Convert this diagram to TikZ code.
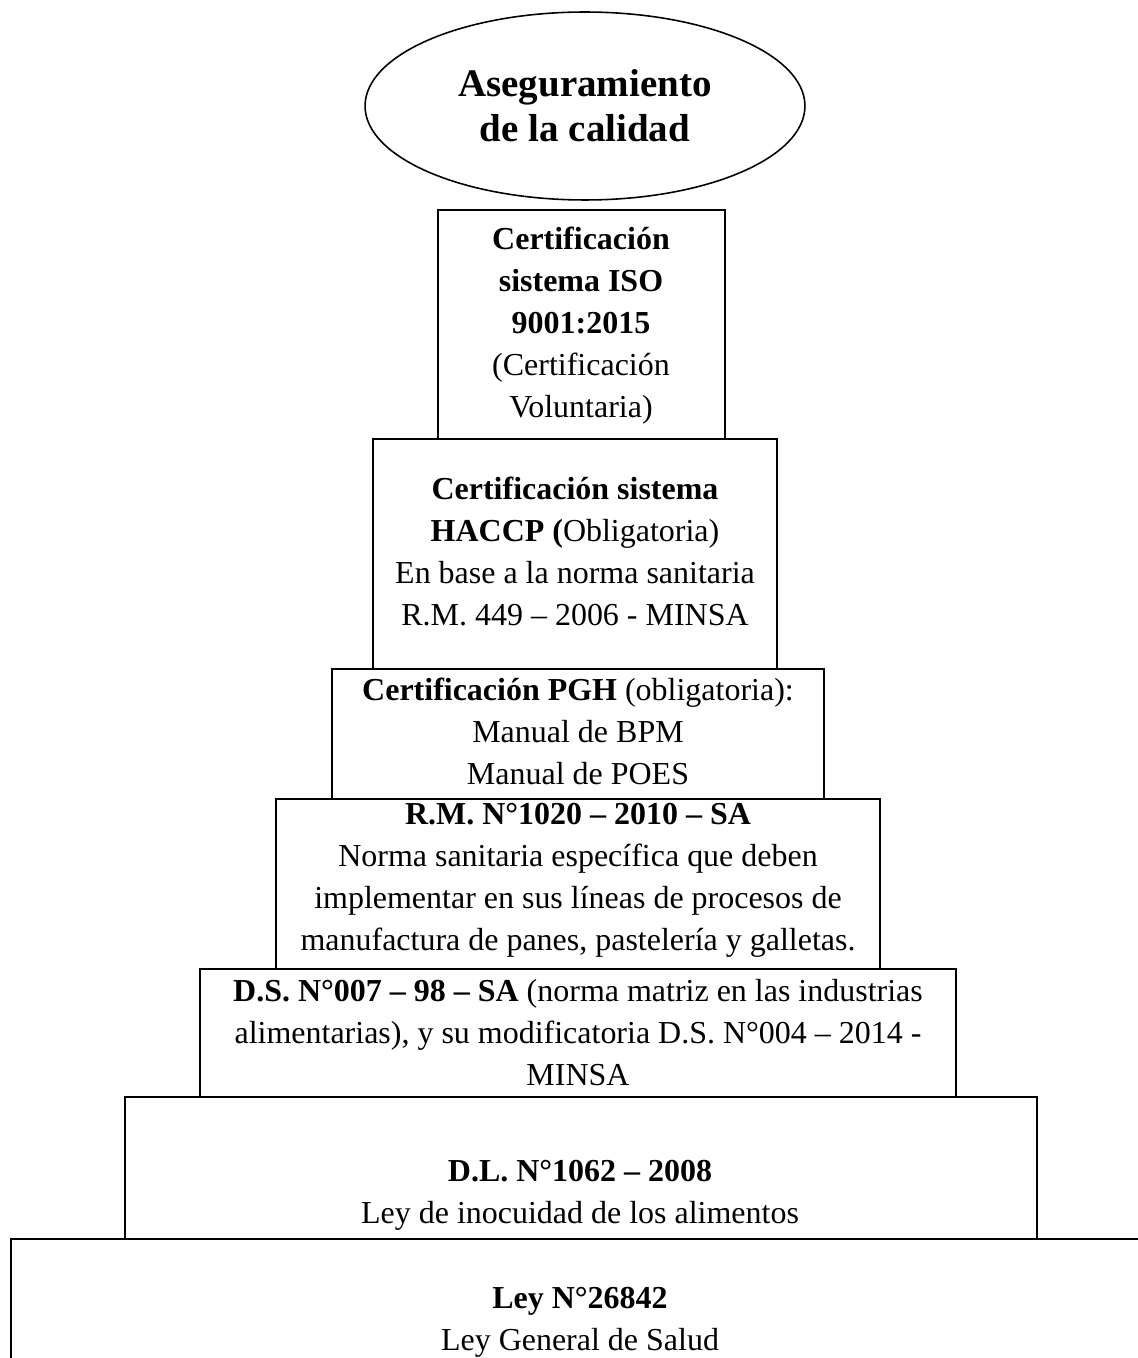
\documentclass[tikz,border=0pt]{standalone}
\usepackage{fontspec}
\setmainfont{Liberation Serif}
\usetikzlibrary{shapes.geometric}

\tikzset{
  piso/.style={draw, line width=1.1pt},
  rotulo/.style={align=center, inner sep=0pt, font=\fontsize{18.2}{23.9}\selectfont},
  meta/.style={ellipse, draw, line width=0.9pt, minimum width=8.8cm, minimum height=3.76cm,
    inner sep=0pt, align=center, font=\fontsize{22.2}{25.6}\selectfont\bfseries}
}

\begin{document}
\begin{tikzpicture}[x=0.02cm, y=-0.02cm]
  \clip (0,0) rectangle (1138,1358);

  % Top of the pyramid
  \node[meta] (calidad) at (585,106) {Aseguramiento\\de la calidad};

  % Steps (top -> bottom)
  \draw[piso] (438,210) rectangle (725,439);
  \draw[piso] (373,439) rectangle (777,669);
  \draw[piso] (332,669) rectangle (824,799);
  \draw[piso] (276,799) rectangle (880,969);
  \draw[piso] (200,969) rectangle (956,1097);
  \draw[piso] (125,1097) rectangle (1037,1239);
  \draw[piso] (1160,1239) -- (11,1239) -- (11,1400);

  % Texts of the steps
  \node[rotulo] (iso) at (581,326) {\textbf{Certificación}\\\textbf{sistema ISO}\\\textbf{9001:2015}\\(Certificación\\Voluntaria)};
  \node[rotulo] (haccp) at (575,551) {\textbf{Certificación sistema}\\\textbf{HACCP (}Obligatoria)\\En base a la norma sanitaria\\R.M. 449 – 2006 - MINSA};
  \node[rotulo] (pgh) at (578,731) {\textbf{Certificación PGH} (obligatoria):\\Manual de BPM\\Manual de POES};
  \node[rotulo] (rm) at (578,880) {\textbf{R.M. N°1020 – 2010 – SA}\\Norma sanitaria específica que deben\\implementar en sus líneas de procesos de\\manufactura de panes, pastelería y galletas.};
  \node[rotulo] (ds) at (578,1033) {\textbf{D.S. N°007 – 98 – SA} (norma matriz en las industrias\\alimentarias), y su modificatoria D.S. N°004 – 2014 -\\MINSA};
  \node[rotulo] (dl) at (580,1195) {\textbf{D.L. N°1062 – 2008}\\Ley de inocuidad de los alimentos};
  \node[rotulo] (ley) at (580,1322) {\textbf{Ley N°26842}\\Ley General de Salud};
\end{tikzpicture}
\end{document}
